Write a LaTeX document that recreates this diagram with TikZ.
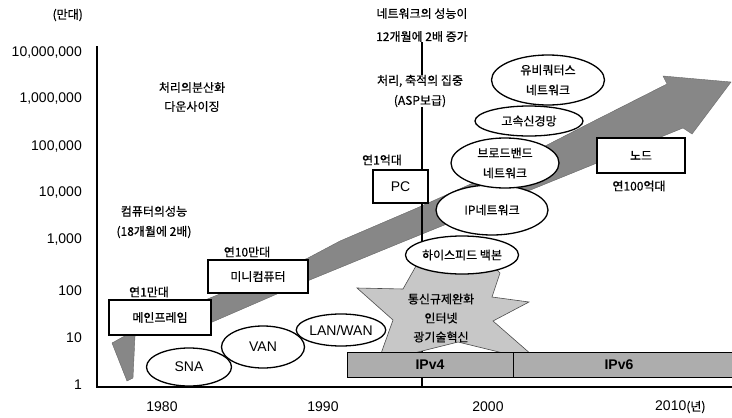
\documentclass[tikz,border=0pt]{standalone}
\usepackage{fontspec}
\setmainfont{Liberation Sans}
\newfontfamily\kr[FakeBold=0.6]{Noto Sans CJK KR}
\usetikzlibrary{shapes.geometric}
\tikzset{
  lat/.style={font=\fontsize{14}{16}\selectfont, inner sep=0pt},
  kor/.style={font=\kr\fontsize{12}{20}\selectfont, inner sep=0pt, align=center},
  ylab/.style={lat, anchor=east},
  ell/.style={ellipse, draw, line width=1.3pt, fill=white, inner sep=0pt, align=center},
  bx/.style={rectangle, draw, line width=1.1pt, fill=white, inner sep=0pt},
  kin/.style={font=\kr\fontsize{12}{20}\selectfont},
  lin/.style={font=\fontsize{14}{16}\selectfont},
  band/.style={fill=black!47, draw=black!60, line width=0.4pt},
  starfill/.style={fill=black!22, draw=black!70, line width=0.6pt},
  bar/.style={fill=black!32, draw=black, line width=0.6pt},
  axis/.style={line width=2.6pt},
  vline/.style={line width=2.4pt}
}
\begin{document}
\begin{tikzpicture}[x=1pt, y=-1pt]
\useasboundingbox (0,0) rectangle (732,418);
% big arrow band
\path[band] (127,381) -- (112,343) -- (150,322) -- (210,298) -- (308,258) -- (340,241)
  -- (417,208) -- (473,183) -- (590,123) -- (667,84) -- (663,76) -- (731,82)
  -- (692,134) -- (683,128) -- (597,163) -- (400,243) -- (300,284) -- (210,323)
  -- (135,336) -- (133,378) -- cycle;
% axes
\coordinate (ytop) at (97,46);
\coordinate (orig) at (97,387);
\coordinate (xend) at (732,387);
\draw[axis] (ytop) -- (orig) -- (xend);
% y labels
\node[ylab] (y7) at (82,53) {10,000,000};
\node[ylab] (y6) at (82,99) {1,000,000};
\node[ylab] (y5) at (82,147) {100,000};
\node[ylab] (y4) at (82,193) {10,000};
\node[ylab] (y3) at (82,240) {1,000};
\node[ylab] (y2) at (82,291) {100};
\node[ylab] (y1) at (82,338) {10};
\node[ylab] (y0) at (82,385) {1};
\node[kor, anchor=east] (unit) at (83,15) {(만대)};
% x labels
\node[lat] (x80) at (162,407) {1980};
\node[lat] (x90) at (323,407) {1990};
\node[lat] (x00) at (488,407) {2000};
\node[lat, anchor=west] (x10) at (655,407) {2010{\kr\fontsize{12}{14}\selectfont(년)}};
% texts
\node[kor, font=\kr\fontsize{12}{23}\selectfont] (tnet) at (422,25) {네트워크의 성능이\\12개월에 2배 증가};
\node[kor] (tasp) at (420,91) {처리, 축적의 집중\\(ASP보급)};
\node[kor, font=\kr\fontsize{12}{19}\selectfont] (tdist) at (192,97) {처리의분산화\\다운사이징};
\node[kor] (tcomp) at (154,222) {컴퓨터의성능\\(18개월에 2배)};
\coordinate (vbot) at (422,388);
\draw[vline] (tnet.south -| vbot) -- (tasp.north -| vbot);
\draw[vline] (tasp.south -| vbot) -- (vbot);
% star
\path[starfill] (357,288) -- (403,289) -- (425,250) -- (450,272) -- (478,250)
  -- (500,273) -- (492,297) -- (529,302) -- (493,321) -- (540,362) -- (458,342)
  -- (378,362) -- (393,320) -- cycle;
\node[kor, font=\kr\fontsize{12}{19}\selectfont] (tstar) at (441,318) {통신규제완화\\인터넷\\광기술혁신};
% bars
\node[bar, minimum width=166pt, minimum height=25pt, inner sep=0pt] (ipv4) at (430,364.5) {};
\node[bar, minimum width=222pt, minimum height=25pt, inner sep=0pt, anchor=west] (ipv6) at (513,364.5) {};
\node[lat, font=\bfseries\fontsize{14}{16}\selectfont] (t4) at (ipv4) {IPv4};
\node[lat, font=\bfseries\fontsize{14}{16}\selectfont] (t6) at (619,364.5) {IPv6};
% boxes
\node[kor] (l1) at (149,292) {연1만대};
\node[bx, kin, minimum width=102pt, minimum height=35pt] (main) at (160,317.5) {메인프레임};
\node[kor] (l2) at (247,252) {연10만대};
\node[bx, kin, minimum width=100pt, minimum height=33pt] (mini) at (258,276.5) {미니컴퓨터};
\node[kor] (l3) at (382,160) {연1억대};
\node[bx, lin, minimum width=55pt, minimum height=33pt] (pc) at (400.5,186.5) {PC};
\node[bx, kin, minimum width=88pt, minimum height=35pt] (node) at (641,155.5) {노드};
\node[kor] (l4) at (639,186) {연100억대};
% ellipses
\node[ell, lin, minimum width=85pt, minimum height=38pt] (sna) at (189,367) {SNA};
\node[ell, lin, minimum width=83pt, minimum height=42pt] (van) at (263,347) {VAN};
\node[ell, lin, minimum width=82pt, minimum height=32pt] (lan) at (341,330) {LAN/WAN};
\node[ell, kin, minimum width=111pt, minimum height=38pt] (hsb) at (462,255) {하이스피드 백본};
\node[ell, kin, minimum width=112pt, minimum height=50pt] (ipn) at (492,210) {IP네트워크};
\node[ell, kin, minimum width=108pt, minimum height=50pt] (bbn) at (505,163) {브로드밴드\\네트워크};
\node[ell, kin, minimum width=108pt, minimum height=30pt] (gsn) at (529,121) {고속신경망};
\node[ell, kin, minimum width=113pt, minimum height=50pt] (ubq) at (548,80) {유비쿼터스\\네트워크};
\end{tikzpicture}
\end{document}
